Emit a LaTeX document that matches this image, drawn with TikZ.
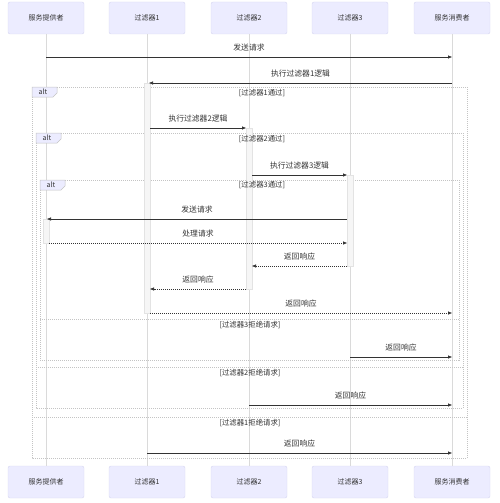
\documentclass[tikz,border=0pt]{standalone}
\usepackage{fontspec}
\setmainfont{Noto Sans CJK SC}
\usetikzlibrary{arrows.meta,calc}
\definecolor{actfill}{HTML}{ECECFF}
\definecolor{actdraw}{HTML}{D6D6F0}
\definecolor{txt}{HTML}{333333}
\definecolor{life}{HTML}{DADADA}
\definecolor{frame}{HTML}{C4C4C4}
\begin{document}
\begin{tikzpicture}[x=1pt,y=-1pt,
  actor/.style={draw=actdraw,fill=actfill,rounded corners=2pt,minimum width=76pt,minimum height=32pt,inner sep=0pt,font=\fontsize{7}{8}\selectfont,text=txt},
  lifeline/.style={draw=life,line width=0.8pt},
  msg/.style={draw=txt,line width=0.75pt,-{Triangle[length=4pt,width=3pt]}},
  reply/.style={msg,dash pattern=on 1pt off 1pt},
  mlabel/.style={font=\fontsize{7.8}{9}\selectfont,text=txt,inner sep=0pt},
  act/.style={draw=gray!22,fill=gray!7,line width=0.5pt,minimum width=6pt,inner sep=0pt,anchor=north},
  altframe/.style={draw=frame,dash pattern=on 1pt off 1pt,line width=0.6pt},
  alttag/.style={draw=frame,fill=actfill,line width=0.5pt},
  cond/.style={font=\fontsize{7.4}{8.5}\selectfont,text=txt,inner sep=0pt}]
\useasboundingbox (0,0) rectangle (500,503);
% actors
\node[actor] (a1t) at (46,18) {服务提供者};
\node[actor] (a2t) at (147,18) {过滤器1};
\node[actor] (a3t) at (249,18) {过滤器2};
\node[actor] (a4t) at (350,18) {过滤器3};
\node[actor] (a5t) at (452,18) {服务消费者};
\node[actor] (a1b) at (46,482) {服务提供者};
\node[actor] (a2b) at (147,482) {过滤器1};
\node[actor] (a3b) at (249,482) {过滤器2};
\node[actor] (a4b) at (350,482) {过滤器3};
\node[actor] (a5b) at (452,482) {服务消费者};
\foreach \i in {1,...,5} {\draw[lifeline] (a\i t.south) -- (a\i b.north);}
% rows
\coordinate (y1) at (0,57);
\coordinate (y2) at (0,83);
\coordinate (y3) at (0,128);
\coordinate (y4) at (0,175);
\coordinate (y5) at (0,219);
\coordinate (y6) at (0,243);
\coordinate (y7) at (0,266);
\coordinate (y8) at (0,289);
\coordinate (y9) at (0,313);
\coordinate (y10) at (0,357);
\coordinate (y11) at (0,405);
\coordinate (y12) at (0,453);
% alt frames
\draw[altframe] (32,87) rectangle (467,458);
\draw[altframe] (32,417) -- (467,417);
\draw[alttag] (32,87) -- (57,87) -- (57,93) -- (53,97) -- (32,97) -- cycle;
\draw[altframe] (36,133) rectangle (463,408);
\draw[altframe] (36,367) -- (463,367);
\draw[alttag] (36,133) -- (61,133) -- (61,139) -- (57,143) -- (36,143) -- cycle;
\draw[altframe] (40,180) rectangle (459,360);
\draw[altframe] (40,319) -- (459,319);
\draw[alttag] (40,180) -- (65,180) -- (65,186) -- (61,190) -- (40,190) -- cycle;
% activations
\node[act,minimum height=230pt] (act2) at (a2t |- y2) {};
\node[act,minimum height=161pt] (act3) at (a3t |- y3) {};
\node[act,minimum height=91pt] (act4) at (a4t |- y4) {};
\node[act,minimum height=24pt] (act1) at (a1t |- y5) {};
% frame labels
\node[cond,font=\fontsize{7}{8}\selectfont] (alt1) at (43,92) {alt};
\node[cond] (c1) at (262,93) {[过滤器1通过]};
\node[cond] (e1) at (250,423) {[过滤器1拒绝请求]};
\node[cond,font=\fontsize{7}{8}\selectfont] (alt2) at (47,138) {alt};
\node[cond] (c2) at (262,139) {[过滤器2通过]};
\node[cond] (e2) at (250,373) {[过滤器2拒绝请求]};
\node[cond,font=\fontsize{7}{8}\selectfont] (alt3) at (51,185) {alt};
\node[cond] (c3) at (262,185) {[过滤器3通过]};
\node[cond] (e3) at (250,325) {[过滤器3拒绝请求]};
% messages
\draw[msg] (a1t |- y1) -- (a5t |- y1) node[midway,above=5pt,mlabel] {发送请求};
\draw[msg] (a5t |- y2) -- ([xshift=2pt]a2t |- y2) node[midway,above=5pt,mlabel] {执行过滤器1逻辑};
\draw[msg] ([xshift=3pt]a2t |- y3) -- ([xshift=-3pt]a3t |- y3) node[midway,above=5pt,mlabel] {执行过滤器2逻辑};
\draw[msg] ([xshift=3pt]a3t |- y4) -- ([xshift=-3pt]a4t |- y4) node[midway,above=5pt,mlabel] {执行过滤器3逻辑};
\draw[msg] ([xshift=-3pt]a4t |- y5) -- ([xshift=1pt]a1t |- y5) node[midway,above=5pt,mlabel] {发送请求};
\draw[reply] ([xshift=3pt]a1t |- y6) -- ([xshift=-3pt]a4t |- y6) node[midway,above=5pt,mlabel] {处理请求};
\draw[reply] ([xshift=-3pt]a4t |- y7) -- ([xshift=3pt]a3t |- y7) node[midway,above=5pt,mlabel] {返回响应};
\draw[reply] ([xshift=-3pt]a3t |- y8) -- ([xshift=3pt]a2t |- y8) node[midway,above=5pt,mlabel] {返回响应};
\draw[reply] ([xshift=3pt]a2t |- y9) -- (a5t |- y9) node[midway,above=5pt,mlabel] {返回响应};
\draw[msg] (a4t |- y10) -- (a5t |- y10) node[midway,above=5pt,mlabel] {返回响应};
\draw[msg] (a3t |- y11) -- (a5t |- y11) node[midway,above=5pt,mlabel] {返回响应};
\draw[msg] (a2t |- y12) -- (a5t |- y12) node[midway,above=5pt,mlabel] {返回响应};
\end{tikzpicture}
\end{document}
